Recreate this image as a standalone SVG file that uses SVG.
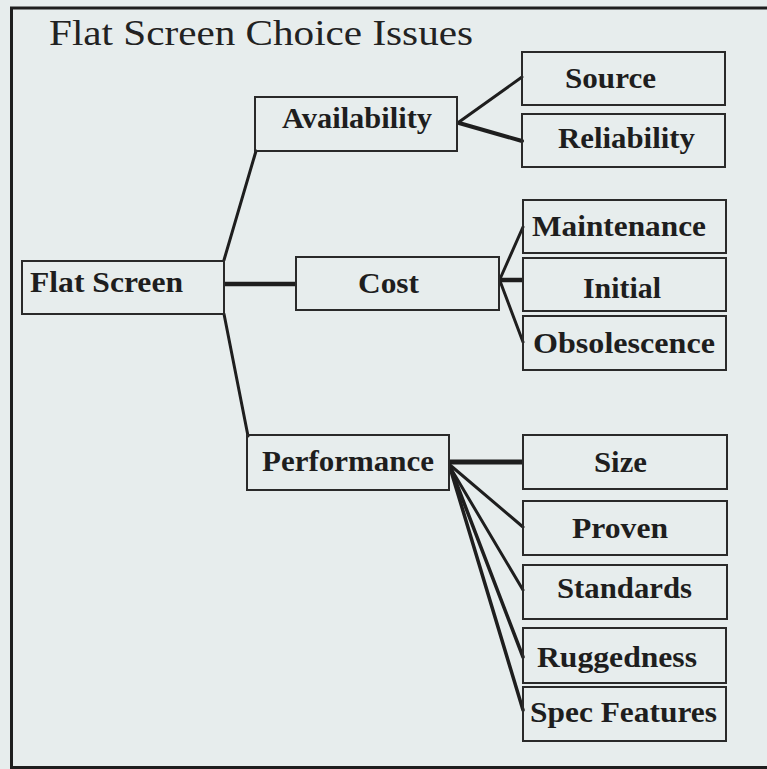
<svg xmlns="http://www.w3.org/2000/svg" width="767" height="769" viewBox="0 0 767 769">
  <style>
    .bg { fill: #e7eded; }
    .frame { fill: none; stroke: #1e1e1e; stroke-width: 3; }
    .box { fill: none; stroke: #2a2a2a; stroke-width: 2; }
    .title { font-family: "Liberation Serif", "Times New Roman", serif; font-size: 35px; fill: #222; }
    .label { font-family: "Liberation Serif", "Times New Roman", serif; font-size: 30px; font-weight: bold; fill: #1e1e1e; }
    .link { stroke: #1e1e1e; stroke-width: 3; fill: none; stroke-linecap: round; }
    .bold { stroke-width: 4.5; stroke-linecap: butt; }
  </style>

  <rect class="bg" x="0" y="0" width="767" height="769"/>
  <rect class="frame" x="11.5" y="8" width="770" height="759.5"/>

  <text class="title" x="49" y="45" textLength="424" lengthAdjust="spacingAndGlyphs">Flat Screen Choice Issues</text>

  <g id="connectors">
    <!-- root to second level -->
    <line class="link" x1="224" y1="260" x2="256" y2="151"/>
    <line class="link bold" x1="224" y1="284" x2="296" y2="284"/>
    <line class="link" x1="224" y1="314" x2="248" y2="436"/>
    <!-- Availability branches -->
    <line class="link" x1="459" y1="122" x2="522" y2="77"/>
    <line class="link" x1="459" y1="123" x2="522" y2="141" style="stroke-width:4"/>
    <!-- Cost branches -->
    <line class="link" x1="500" y1="279" x2="523" y2="227"/>
    <line class="link bold" x1="499" y1="280" x2="523" y2="280"/>
    <line class="link" x1="500" y1="281" x2="523" y2="342"/>
    <!-- Performance branches -->
    <line class="link bold" x1="449" y1="462" x2="523" y2="462" style="stroke-width:5"/>
    <line class="link" x1="450" y1="465" x2="523" y2="527"/>
    <line class="link" x1="450" y1="467" x2="523" y2="590"/>
    <line class="link" x1="451" y1="469" x2="523" y2="657" style="stroke-width:3.5"/>
    <line class="link" x1="451" y1="471" x2="523" y2="710" style="stroke-width:3.5"/>
  </g>

  <g id="flat-screen">
    <rect class="box" x="22" y="261" width="202" height="53"/>
    <text class="label" x="30" y="292" textLength="153" lengthAdjust="spacingAndGlyphs">Flat Screen</text>
  </g>

  <g id="availability">
    <rect class="box" x="255" y="97" width="202" height="54"/>
    <text class="label" x="282" y="128" textLength="150" lengthAdjust="spacingAndGlyphs">Availability</text>
  </g>

  <g id="cost">
    <rect class="box" x="296" y="257" width="203" height="53"/>
    <text class="label" x="358" y="293" textLength="61" lengthAdjust="spacingAndGlyphs">Cost</text>
  </g>

  <g id="performance">
    <rect class="box" x="247" y="435" width="202" height="55"/>
    <text class="label" x="262" y="471" textLength="172" lengthAdjust="spacingAndGlyphs">Performance</text>
  </g>

  <g id="source">
    <rect class="box" x="522" y="52" width="203" height="53"/>
    <text class="label" x="565" y="88" textLength="91" lengthAdjust="spacingAndGlyphs">Source</text>
  </g>

  <g id="reliability">
    <rect class="box" x="522" y="114" width="203" height="53"/>
    <text class="label" x="558" y="148" textLength="137" lengthAdjust="spacingAndGlyphs">Reliability</text>
  </g>

  <g id="maintenance">
    <rect class="box" x="523" y="200" width="203" height="53"/>
    <text class="label" x="532" y="236" textLength="174" lengthAdjust="spacingAndGlyphs">Maintenance</text>
  </g>

  <g id="initial">
    <rect class="box" x="523" y="258" width="203" height="53"/>
    <text class="label" x="583" y="298" textLength="78" lengthAdjust="spacingAndGlyphs">Initial</text>
  </g>

  <g id="obsolescence">
    <rect class="box" x="523" y="316" width="203" height="54"/>
    <text class="label" x="533" y="353" textLength="182" lengthAdjust="spacingAndGlyphs">Obsolescence</text>
  </g>

  <g id="size">
    <rect class="box" x="523" y="435" width="204" height="54"/>
    <text class="label" x="594" y="472" textLength="53" lengthAdjust="spacingAndGlyphs">Size</text>
  </g>

  <g id="proven">
    <rect class="box" x="523" y="501" width="204" height="54"/>
    <text class="label" x="572" y="538" textLength="96" lengthAdjust="spacingAndGlyphs">Proven</text>
  </g>

  <g id="standards">
    <rect class="box" x="523" y="565" width="204" height="54"/>
    <text class="label" x="557" y="598" textLength="135" lengthAdjust="spacingAndGlyphs">Standards</text>
  </g>

  <g id="ruggedness">
    <rect class="box" x="523" y="628" width="203" height="55"/>
    <text class="label" x="537" y="667" textLength="160" lengthAdjust="spacingAndGlyphs">Ruggedness</text>
  </g>

  <g id="spec-features">
    <rect class="box" x="523" y="687" width="203" height="54"/>
    <text class="label" x="530" y="722" textLength="187" lengthAdjust="spacingAndGlyphs">Spec Features</text>
  </g>
</svg>
